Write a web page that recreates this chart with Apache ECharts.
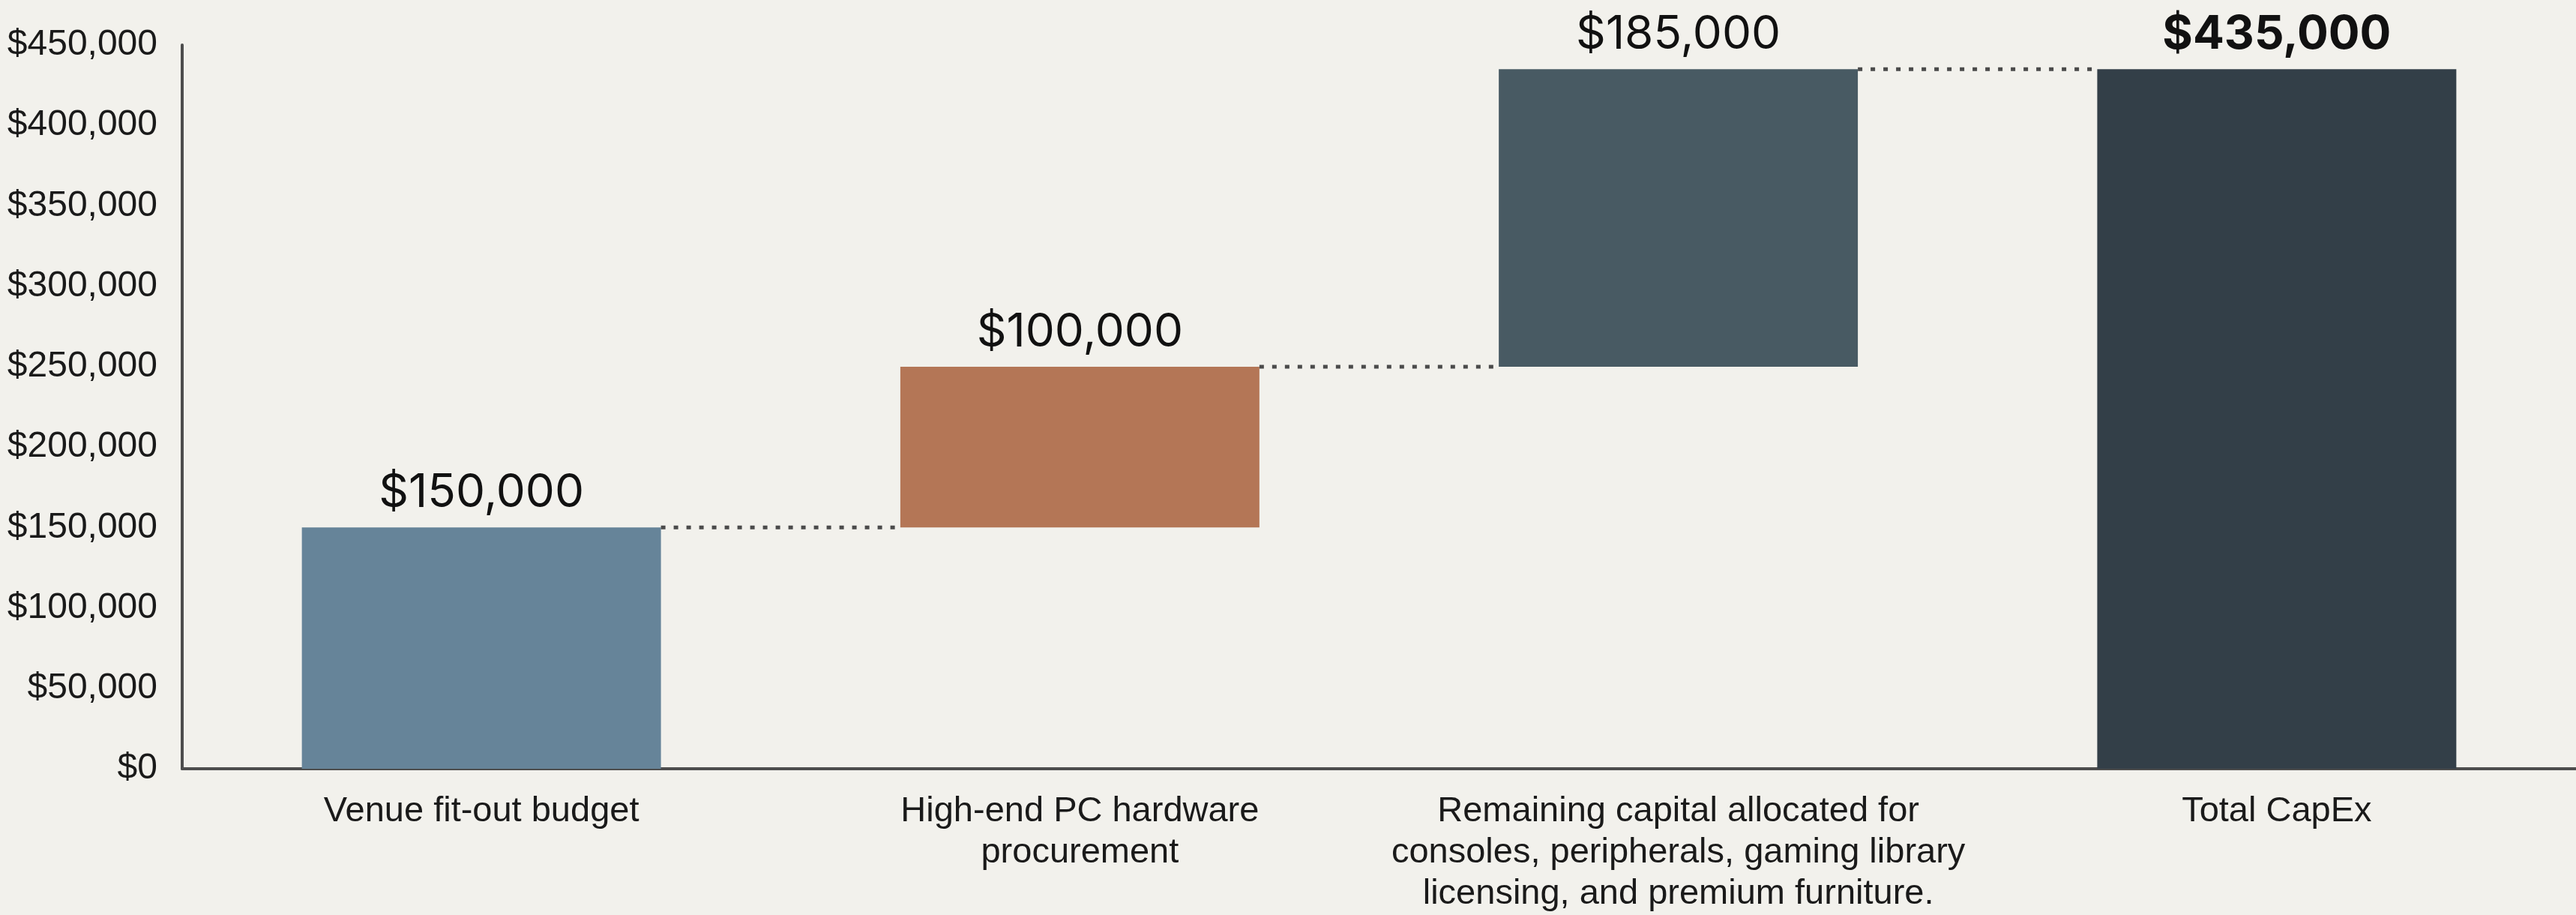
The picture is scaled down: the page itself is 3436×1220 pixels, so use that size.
<!DOCTYPE html>
<html>
<head>
<meta charset="utf-8">
<script src="https://cdn.jsdelivr.net/npm/echarts@6/dist/echarts.min.js"></script>
<style>
  html, body { margin: 0; padding: 0; background: #f2f1ec; }
  #chart { width: 3436px; height: 1220px; }
</style>
</head>
<body>
<div id="chart"></div>
<script>
// 資料
const categories = [
  'Venue fit-out budget',
  'High-end PC hardware\nprocurement',
  'Remaining capital allocated for\nconsoles, peripherals, gaming library\nlicensing, and premium furniture.',
  'Total CapEx'
];
const baseValues = [0, 150000, 250000, 0];
const stepValues = [150000, 100000, 185000, 435000];
const connectorLevels = [150000, 250000, 435000];
const barColors = ['#668499', '#b47656', '#485a63', '#333f48'];
const yTicks = { min: 0, max: 450000, interval: 50000 };

const BAR_RATIO = 0.6;

function formatMoney(v) {
  return '$' + v.toString().replace(/\B(?=(\d{3})+(?!\d))/g, ',');
}

const chart = echarts.init(document.getElementById('chart'));

chart.setOption({
  backgroundColor: '#f2f1ec',
  animation: false,
  grid: { left: 243, right: 0, top: 60, bottom: 195 },
  xAxis: {
    type: 'category',
    data: categories,
    axisLine: { lineStyle: { color: '#4d4d4d', width: 4 } },
    axisTick: { show: false },
    axisLabel: {
      interval: 0,
      margin: 30,
      fontFamily: 'Liberation Sans',
      fontSize: 47,
      lineHeight: 55,
      color: '#1a1a1a'
    }
  },
  yAxis: {
    type: 'value',
    min: yTicks.min,
    max: yTicks.max,
    interval: yTicks.interval,
    splitLine: { show: false },
    axisTick: { show: false },
    axisLine: { show: true, lineStyle: { color: '#4d4d4d', width: 4 } },
    axisLabel: {
      margin: 33,
      fontFamily: 'Liberation Sans',
      fontSize: 48,
      color: '#1a1a1a',
      formatter: formatMoney
    }
  },
  series: [
    {
      name: 'base',
      type: 'bar',
      stack: 'wf',
      barWidth: (BAR_RATIO * 100) + '%',
      itemStyle: { color: 'transparent' },
      emphasis: { disabled: true },
      data: baseValues
    },
    {
      name: 'value',
      type: 'bar',
      stack: 'wf',
      data: stepValues.map((v, i) => ({
        value: v,
        itemStyle: { color: barColors[i] },
        label: i === 3 ? { fontWeight: 'bold' } : undefined
      })),
      label: {
        show: true,
        position: 'top',
        distance: 15,
        fontFamily: 'Inter',
        fontSize: 62,
        color: '#111',
        formatter: p => formatMoney(p.value)
      }
    },
    {
      name: 'connector',
      type: 'custom',
      silent: true,
      z: 3,
      data: connectorLevels.map((lvl, i) => [i, lvl]),
      renderItem: (params, api) => {
        const i = api.value(0);
        const lvl = api.value(1);
        const start = api.coord([i, lvl]);
        const end = api.coord([i + 1, lvl]);
        const half = api.size([1, 0])[0] * BAR_RATIO / 2;
        return {
          type: 'line',
          shape: { x1: start[0] + half, y1: start[1], x2: end[0] - half, y2: end[1] },
          style: { stroke: '#4a4a4a', lineWidth: 5, lineDash: [6, 11] }
        };
      }
    }
  ]
});
</script>
</body>
</html>
